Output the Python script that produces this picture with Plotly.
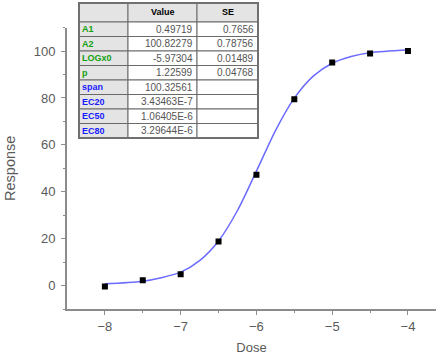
import plotly.graph_objects as go

# Observed data
dose = [-8, -7.5, -7, -6.5, -6, -5.5, -5, -4.5, -4]
response = [-0.4, 2.3, 4.8, 18.8, 47.3, 79.4, 95.1, 99.0, 100.0]

# Fitted curve
curve_x = [-8, -7.5, -7, -6.75, -6.5, -6.25, -6, -5.75, -5.5, -5.25, -5, -4.75, -4.5, -4]
curve_y = [0.8, 1.8, 5.7, 10.6, 19.0, 32.0, 48.8, 66.0, 79.9, 89.3, 94.8, 97.7, 99.3, 100.4]

# Parameter table
table_header = ["", "Value", "SE"]
param_names = ["A1", "A2", "LOGx0", "p", "span", "EC20", "EC50", "EC80"]
param_values = ["0.49719", "100.82279", "-5.97304", "1.22599", "100.32561",
                "3.43463E-7", "1.06405E-6", "3.29644E-6"]
param_se = ["0.7656", "0.78756", "0.01489", "0.04768", "", "", "", ""]
name_colors = ["#13a013"] * 4 + ["#1a1aff"] * 4

W, H = 436, 362
px_l, px_r, px_t, px_b = 67, 436, 27.6, 309
FONT = "Liberation Sans, Arial, sans-serif"

fig = go.Figure()
fig.add_trace(go.Scatter(
    x=curve_x, y=curve_y, mode="lines",
    line=dict(color="#6b6bff", width=1.5, shape="spline", smoothing=0.8),
    hoverinfo="skip", showlegend=False))
fig.add_trace(go.Scatter(
    x=dose, y=response, mode="markers",
    marker=dict(symbol="square", size=6, color="black"), showlegend=False))

# ---- table drawn with shapes + annotations (pixel layout -> paper coords)
def px(x):
    return x / W

def py(y):
    return 1 - y / H

col_edges = [79, 128, 197, 258]
hdr_top, hdr_h, row_h = 3, 19, 14.5
row_edges = [hdr_top, hdr_top + hdr_h] + [hdr_top + hdr_h + row_h * (i + 1) for i in range(len(param_names))]
shapes = []
annotations = []
grey = "#e4e4e4"
border = "#6a6a6a"
for r in range(len(row_edges) - 1):
    y0, y1 = row_edges[r], row_edges[r + 1]
    for c in range(3):
        x0, x1 = col_edges[c], col_edges[c + 1]
        fill = grey if (r == 0 or c == 0) else "white"
        shapes.append(dict(type="rect", xref="paper", yref="paper", layer="above",
                           x0=px(x0), x1=px(x1), y0=py(y1), y1=py(y0),
                           fillcolor=fill, line=dict(color=border, width=1)))
        if r == 0:
            txt = table_header[c]
            if txt:
                annotations.append(dict(x=px((x0 + x1) / 2), y=py((y0 + y1) / 2), xref="paper", yref="paper",
                                        text="<b>%s</b>" % txt, showarrow=False, xanchor="center", yanchor="middle",
                                        font=dict(family=FONT, size=9, color="black")))
        else:
            i = r - 1
            if c == 0:
                annotations.append(dict(x=px(x0 + 1), y=py((y0 + y1) / 2), xref="paper", yref="paper",
                                        text="<b>%s</b>" % param_names[i], showarrow=False,
                                        xanchor="left", yanchor="middle",
                                        font=dict(family=FONT, size=9, color=name_colors[i])))
            else:
                txt = param_values[i] if c == 1 else param_se[i]
                if txt:
                    annotations.append(dict(x=px(x1 - 2), y=py((y0 + y1) / 2), xref="paper", yref="paper",
                                            text=txt, showarrow=False, xanchor="right", yanchor="middle",
                                            font=dict(family=FONT, size=10, color="#555")))
# outer frame
shapes.append(dict(type="rect", xref="paper", yref="paper", layer="above",
                   x0=px(col_edges[0]), x1=px(col_edges[-1]), y0=py(row_edges[-1]), y1=py(row_edges[0]),
                   line=dict(color="#707070", width=2)))

axis_common = dict(showgrid=False, zeroline=False, showline=True, linecolor="#8c8c8c", linewidth=2,
                   ticks="outside", ticklen=4, tickcolor="#8c8c8c", tickwidth=1,
                   tickfont=dict(family=FONT, size=13, color="#5a5a5a"),
                   automargin=False)

fig.update_layout(
    width=W, height=H,
    margin=dict(l=0, r=0, t=0, b=0),
    paper_bgcolor="white", plot_bgcolor="white",
    xaxis=dict(range=[-8.5, -3.63], tickvals=[-8, -7, -6, -5, -4],
               minor=dict(tickvals=[-7.5, -6.5, -5.5, -4.5], ticks="outside", ticklen=2, tickcolor="#8c8c8c"),
               domain=[px_l / W, px_r / W],
               title=dict(text="Dose", font=dict(family=FONT, size=13, color="#5a5a5a"), standoff=10),
               **axis_common),
    yaxis=dict(range=[-10, 110], tickvals=[0, 20, 40, 60, 80, 100],
               minor=dict(tickvals=[-10, 10, 30, 50, 70, 90, 110], ticks="outside", ticklen=2, tickcolor="#8c8c8c"),
               domain=[1 - px_b / H, 1 - px_t / H],
               ticklabelstandoff=3,
               title=dict(text="Response", font=dict(family=FONT, size=14.5, color="#5a5a5a"), standoff=15),
               **axis_common),
    shapes=shapes,
    annotations=annotations,
    showlegend=False,
)

fig.write_html("out.html", config={"displayModeBar": False},
               post_script="document.body.style.margin='0px';")
